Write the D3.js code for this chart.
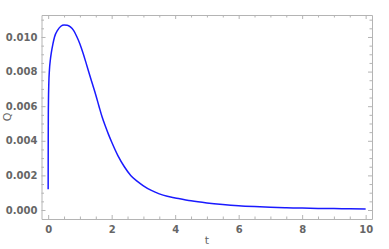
<!DOCTYPE html>
<html>
<head>
<meta charset="utf-8">
<script src="https://cdn.jsdelivr.net/npm/d3@7"></script>
<style>
  body { margin: 0; background: #fff; }
  svg text { font-family: "DejaVu Sans", sans-serif; }
</style>
</head>
<body>
<div id="chart"></div>
<script>
// values
const tValues = [0, 0.002, 0.005, 0.01, 0.02, 0.04, 0.07, 0.1, 0.15, 0.2, 0.3, 0.4, 0.5, 0.6, 0.7, 0.8, 0.9,
  1.0, 1.1, 1.2, 1.3, 1.4, 1.5, 1.6, 1.7, 1.8, 1.9, 2.0, 2.2, 2.4, 2.6, 2.8, 3.0, 3.25, 3.5, 3.75, 4.0,
  4.5, 5, 5.5, 6, 6.5, 7, 7.5, 8, 8.5, 9, 9.5, 10];
const qValues = [0.0012, 0.0040, 0.0055, 0.0064, 0.0073, 0.0081, 0.0087, 0.0091, 0.0096, 0.0100, 0.0104, 0.01062, 0.01069, 0.01068, 0.01058, 0.01038, 0.01003,
  0.0096, 0.00906, 0.00846, 0.00785, 0.00725, 0.00665, 0.0060, 0.00537, 0.00485, 0.00437, 0.00393, 0.00313, 0.0025, 0.0020, 0.00167, 0.0014, 0.00113, 0.00093, 0.00079, 0.0007,
  0.00053, 0.00041, 0.00032, 0.00025, 0.0002, 0.00016, 0.00013, 0.00011, 0.00009, 0.00008, 0.00007, 0.00006];
const xTicks = [0, 2, 4, 6, 8, 10];
const yTicks = [0, 0.002, 0.004, 0.006, 0.008, 0.010];
const xLabel = "t";
const yLabel = "Q";

const width = 389, height = 249;
const mLeft = 41.5, mRight = 372, mTop = 15, mBottom = 219;

const svg = d3.select("#chart").append("svg")
  .attr("width", width).attr("height", height);

const x = d3.scaleLinear().domain([-0.21, 10.2]).range([mLeft, mRight]);
const y = d3.scaleLinear().domain([-0.00052, 0.01127]).range([mBottom, mTop]);

const frameCol = "#b4b4b4";
const labelCol = "#666";

const xMinor = d3.range(0, 10.01, 0.5).filter(v => !xTicks.includes(v));
const yMinor = d3.range(0, 0.01126, 0.0005).filter(v => !yTicks.some(t => Math.abs(t - v) < 1e-9));

function addAxis(axis, tf, vals, size) {
  const g = svg.append("g").attr("transform", tf)
    .call(axis.tickValues(vals).tickSize(size).tickSizeOuter(0).tickFormat(() => ""));
  g.select(".domain").attr("stroke", frameCol);
  g.selectAll(".tick line").attr("stroke", frameCol);
  return g;
}

// bottom / top
addAxis(d3.axisTop(x), `translate(0,${mBottom})`, xMinor, 2.5).select(".domain").remove();
addAxis(d3.axisTop(x), `translate(0,${mBottom})`, xTicks, 4);
const xb = svg.append("g").attr("transform", `translate(0,${mBottom})`)
  .call(d3.axisBottom(x).tickValues(xTicks).tickSize(0).tickPadding(7).tickFormat(d3.format("d")));
xb.select(".domain").remove();
xb.selectAll("text").attr("fill", labelCol).attr("font-size", 10).attr("font-weight", "bold");

addAxis(d3.axisBottom(x), `translate(0,${mTop})`, xMinor, 2.5).select(".domain").remove();
addAxis(d3.axisBottom(x), `translate(0,${mTop})`, xTicks, 4);

// left / right
addAxis(d3.axisRight(y), `translate(${mLeft},0)`, yMinor, 2.5).select(".domain").remove();
addAxis(d3.axisRight(y), `translate(${mLeft},0)`, yTicks, 4);
const yl = svg.append("g").attr("transform", `translate(${mLeft},0)`)
  .call(d3.axisLeft(y).tickValues(yTicks).tickSize(0).tickPadding(4).tickFormat(d3.format(".3f")));
yl.select(".domain").remove();
yl.selectAll("text").attr("fill", labelCol).attr("font-size", 10).attr("font-weight", "bold");

addAxis(d3.axisLeft(y), `translate(${mRight},0)`, yMinor, 2.5).select(".domain").remove();
addAxis(d3.axisLeft(y), `translate(${mRight},0)`, yTicks, 4);

// curve
const pts = tValues.map((t, i) => [t, qValues[i]]);
svg.append("path")
  .datum(pts)
  .attr("fill", "none")
  .attr("stroke", "#1a1aff")
  .attr("stroke-width", 1.5)
  .attr("d", d3.line().x(d => x(d[0])).y(d => y(d[1])).curve(d3.curveMonotoneX));

// axis labels
svg.append("text").attr("x", 207).attr("y", 244).attr("text-anchor", "middle")
  .attr("fill", labelCol).attr("font-size", 11).text(xLabel);
svg.append("text").attr("transform", "translate(11,117) rotate(-90)").attr("text-anchor", "middle")
  .attr("fill", labelCol).attr("font-size", 11).text(yLabel);
</script>
</body>
</html>
